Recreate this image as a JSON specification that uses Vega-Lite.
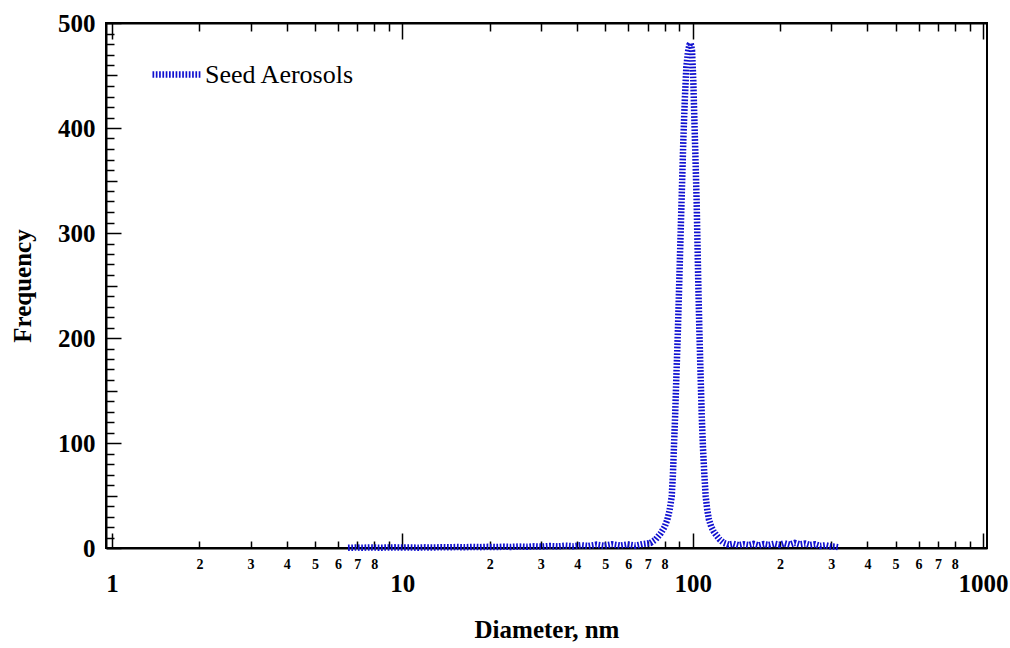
{
  "$schema": "https://vega.github.io/schema/vega-lite/v6.json",
  "width": 881,
  "height": 525,
  "autosize": "none",
  "padding": {"left": 106, "top": 23, "right": 23, "bottom": 100},
  "background": "white",
  "config": {
    "view": {"stroke": "black", "strokeWidth": 2},
    "font": "Liberation Serif",
    "axis": {
      "domainColor": "black",
      "domainWidth": 2,
      "tickColor": "black",
      "tickWidth": 1.5,
      "grid": false,
      "labelFont": "Liberation Serif",
      "labelFontWeight": "bold",
      "labelColor": "black",
      "titleFont": "Liberation Serif",
      "titleFontWeight": "bold",
      "titleFontSize": 25,
      "titleColor": "black"
    }
  },
  "data": {
    "values": [
      {"d": 6.5, "f": 0.2}, {"d": 6.9, "f": 0.4}, {"d": 7.3, "f": 0.3}, {"d": 7.8, "f": 0.5},
      {"d": 8.3, "f": 0.3}, {"d": 8.8, "f": 0.4}, {"d": 9.4, "f": 0.6}, {"d": 10.0, "f": 0.4},
      {"d": 10.6, "f": 0.5}, {"d": 11.3, "f": 0.3}, {"d": 12.0, "f": 0.6}, {"d": 12.8, "f": 0.5},
      {"d": 13.6, "f": 0.7}, {"d": 14.5, "f": 0.6}, {"d": 15.4, "f": 0.9}, {"d": 16.4, "f": 0.7},
      {"d": 17.4, "f": 1.0}, {"d": 18.5, "f": 0.8}, {"d": 19.7, "f": 1.1}, {"d": 21.0, "f": 0.9},
      {"d": 22.3, "f": 1.2}, {"d": 23.7, "f": 1.0}, {"d": 25.2, "f": 1.4}, {"d": 26.8, "f": 1.1},
      {"d": 28.5, "f": 1.6}, {"d": 30.3, "f": 1.3}, {"d": 32.2, "f": 1.9}, {"d": 34.3, "f": 1.5},
      {"d": 36.5, "f": 2.2}, {"d": 38.8, "f": 1.7}, {"d": 41.2, "f": 2.6}, {"d": 43.8, "f": 1.9},
      {"d": 46.6, "f": 3.2}, {"d": 49.6, "f": 2.1}, {"d": 52.7, "f": 3.5}, {"d": 56.1, "f": 2.3},
      {"d": 59.6, "f": 3.4}, {"d": 63.4, "f": 2.2}, {"d": 67.4, "f": 3.8}, {"d": 71.6, "f": 4.8},
      {"d": 74.5, "f": 8}, {"d": 77.6, "f": 14}, {"d": 80.0, "f": 20}, {"d": 81.8, "f": 27},
      {"d": 83.3, "f": 36}, {"d": 84.7, "f": 49}, {"d": 85.5, "f": 70}, {"d": 86.2, "f": 96},
      {"d": 87.0, "f": 125}, {"d": 87.8, "f": 160}, {"d": 88.9, "f": 205}, {"d": 89.9, "f": 253},
      {"d": 90.9, "f": 300}, {"d": 91.9, "f": 345}, {"d": 92.9, "f": 390}, {"d": 94.0, "f": 428},
      {"d": 95.1, "f": 458}, {"d": 96.3, "f": 472}, {"d": 97.4, "f": 479}, {"d": 98.4, "f": 481},
      {"d": 99.5, "f": 474}, {"d": 100.5, "f": 445}, {"d": 101.6, "f": 398}, {"d": 102.4, "f": 365},
      {"d": 103.2, "f": 330}, {"d": 103.9, "f": 290}, {"d": 104.5, "f": 255}, {"d": 105.5, "f": 205},
      {"d": 106.6, "f": 160}, {"d": 107.5, "f": 125}, {"d": 108.5, "f": 96}, {"d": 109.7, "f": 70},
      {"d": 110.9, "f": 49}, {"d": 112.3, "f": 36}, {"d": 113.8, "f": 27}, {"d": 116.0, "f": 20},
      {"d": 118.0, "f": 16}, {"d": 120.0, "f": 13}, {"d": 124.0, "f": 8}, {"d": 128.0, "f": 4.8},
      {"d": 133, "f": 3.2}, {"d": 138, "f": 4.0}, {"d": 144, "f": 2.6}, {"d": 150, "f": 3.6},
      {"d": 156, "f": 2.8}, {"d": 162, "f": 3.9}, {"d": 169, "f": 2.5}, {"d": 176, "f": 3.7},
      {"d": 183, "f": 2.9}, {"d": 191, "f": 4.1}, {"d": 199, "f": 3.0}, {"d": 207, "f": 4.5},
      {"d": 216, "f": 3.2}, {"d": 225, "f": 4.8}, {"d": 234, "f": 3.4}, {"d": 244, "f": 4.2},
      {"d": 254, "f": 2.8}, {"d": 264, "f": 3.5}, {"d": 275, "f": 2.0}, {"d": 287, "f": 2.6},
      {"d": 299, "f": 1.5}, {"d": 311, "f": 1.2}, {"d": 320, "f": 0.6}
    ]
  },
  "layer": [
    {
      "mark": {"type": "line", "strokeWidth": 6.5, "strokeDash": [1.7, 1.6], "strokeCap": "butt", "interpolate": "linear"},
      "encoding": {
        "x": {
          "field": "d", "type": "quantitative",
          "scale": {"type": "log", "domain": [0.9535, 1032.3], "nice": false},
          "axis": {
            "orient": "bottom",
            "title": "Diameter, nm",
            "titlePadding": 21,
            "values": [1,2,3,4,5,6,7,8,9,10,20,30,40,50,60,70,80,90,100,200,300,400,500,600,700,800,900,1000],
            "tickSize": {"condition": {"test": "indexof([1,10,100,1000], datum.value) >= 0", "value": -15}, "value": -7},
            "labelPadding": {"condition": {"test": "indexof([1,10,100,1000], datum.value) >= 0", "value": 38}, "value": 16},
            "labelFontSize": {"condition": {"test": "indexof([1,10,100,1000], datum.value) >= 0", "value": 25}, "value": 14},
            "labelBaseline": "top",
            "labelFlush": false,
            "labelOverlap": false,
            "labelBound": false,
            "labelExpr": "indexof([1,10,100,1000], datum.value) >= 0 ? '' + datum.value : indexof([9,90,900], datum.value) >= 0 ? '' : '' + round(datum.value / pow(10, floor(log(datum.value) / LN10 + 0.0001)))"
          }
        },
        "y": {
          "field": "f", "type": "quantitative",
          "scale": {"domain": [0, 500], "nice": false, "zero": true},
          "axis": {
            "orient": "left",
            "title": "Frequency",
            "titlePadding": 22,
            "values": [0,10,20,30,40,50,60,70,80,90,100,110,120,130,140,150,160,170,180,190,200,210,220,230,240,250,260,270,280,290,300,310,320,330,340,350,360,370,380,390,400,410,420,430,440,450,460,470,480,490,500],
            "tickSize": {"expr": "datum.value % 100 == 0 ? -15 : datum.value % 50 == 0 ? -11 : -8"},
            "labelPadding": {"expr": "datum.value % 100 == 0 ? 26 : 19"},
            "labelFontSize": 25,
            "labelFlush": false,
            "labelOverlap": false,
            "labelBound": false,
            "labelExpr": "datum.value % 100 == 0 ? '' + datum.value : ''"
          }
        },
        "color": {
          "datum": "Seed Aerosols",
          "type": "nominal",
          "scale": {"range": ["#1010d0"]},
          "legend": {
            "orient": "none",
            "legendX": 43,
            "legendY": 24,
            "title": null,
            "padding": 0,
            "symbolType": "stroke",
            "symbolSize": 2304,
            "symbolStrokeWidth": 6.5,
            "symbolDash": [1.7, 1.6],
            "symbolOffset": 0,
            "labelOffset": 1,
            "labelFont": "Liberation Serif",
            "labelFontSize": 26,
            "labelColor": "black",
            "labelLimit": 400
          }
        }
      }
    },
    {
      "mark": {"type": "line", "strokeOpacity": 0},
      "encoding": {
        "x": {
          "field": "d", "type": "quantitative",
          "scale": {"type": "log", "domain": [0.9535, 1032.3], "nice": false},
          "axis": {
            "orient": "top",
            "title": null,
            "labels": false,
            "values": [1,2,3,4,5,6,7,8,9,10,20,30,40,50,60,70,80,90,100,200,300,400,500,600,700,800,900,1000],
            "tickSize": {"condition": {"test": "indexof([1,10,100,1000], datum.value) >= 0", "value": -16}, "value": -8}
          }
        },
        "y": {
          "field": "f", "type": "quantitative",
          "scale": {"domain": [0, 500], "nice": false, "zero": true},
          "axis": null
        }
      }
    }
  ],
  "resolve": {"axis": {"x": "independent", "y": "independent"}}
}
